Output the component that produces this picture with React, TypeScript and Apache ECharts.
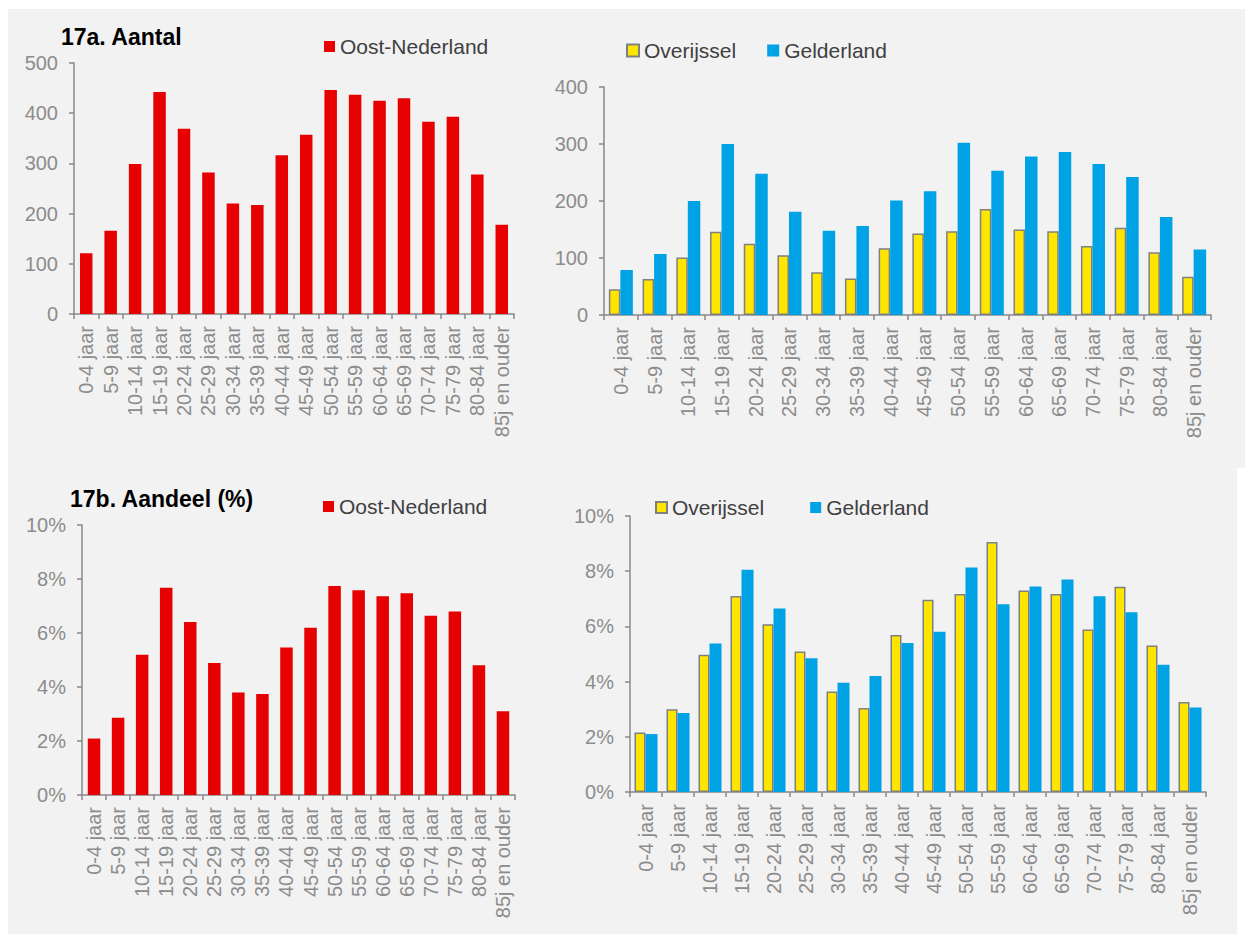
import React, { useEffect, useRef } from "react";
import * as echarts from "echarts";

// Age groups shared by all four panels
const ageGroups = [
  "0-4 jaar", "5-9 jaar", "10-14 jaar", "15-19 jaar", "20-24 jaar", "25-29 jaar",
  "30-34 jaar", "35-39 jaar", "40-44 jaar", "45-49 jaar", "50-54 jaar", "55-59 jaar",
  "60-64 jaar", "65-69 jaar", "70-74 jaar", "75-79 jaar", "80-84 jaar", "85j en ouder",
];

// 17a. Aantal
const aantalOostNederland = [121, 166, 299, 442, 369, 282, 220, 217, 316, 357, 446, 437, 425, 430, 383, 393, 278, 178];
const aantalOverijssel = [45, 63, 101, 146, 125, 105, 75, 64, 117, 143, 147, 186, 150, 147, 121, 153, 110, 67];
const aantalGelderland = [79, 107, 200, 300, 248, 181, 148, 156, 201, 217, 302, 253, 278, 286, 265, 242, 172, 115];

// 17b. Aandeel (%)
const aandeelOostNederland = [2.09, 2.86, 5.19, 7.68, 6.41, 4.89, 3.8, 3.74, 5.46, 6.19, 7.74, 7.58, 7.36, 7.47, 6.64, 6.8, 4.81, 3.1];
const aandeelOverijssel = [2.16, 3.0, 4.97, 7.1, 6.08, 5.09, 3.64, 3.04, 5.69, 6.97, 7.17, 9.06, 7.3, 7.17, 5.89, 7.44, 5.31, 3.26];
const aandeelGelderland = [2.1, 2.86, 5.38, 8.05, 6.65, 4.85, 3.96, 4.2, 5.4, 5.81, 8.13, 6.8, 7.45, 7.7, 7.09, 6.51, 4.61, 3.06];

const FONT = "'Liberation Sans', Arial, sans-serif";
const RED = "#e60000";
const YELLOW = "#ffe600";
const BLUE = "#00a2e6";
const AXIS = "#898989";
const LABEL = "#8c8c8c";

const xAxisFor = (gridIndex: number) => ({
  type: "category" as const,
  gridIndex,
  data: ageGroups,
  axisLine: { lineStyle: { color: AXIS, width: 1.5 } },
  axisTick: { show: true, length: 5, lineStyle: { color: AXIS, width: 1.5 } },
  axisLabel: { rotate: 90, margin: 12, color: LABEL, fontSize: 20, fontFamily: FONT, interval: 0 },
  splitLine: { show: false },
});

const yAxisFor = (gridIndex: number, max: number, interval: number, pct: boolean) => ({
  type: "value" as const,
  gridIndex,
  min: 0,
  max,
  interval,
  axisLine: { show: true, lineStyle: { color: AXIS, width: 1.5 } },
  axisTick: { show: true, length: 5, lineStyle: { color: AXIS, width: 1.5 } },
  axisLabel: {
    margin: 16,
    color: LABEL,
    fontSize: 20,
    fontFamily: FONT,
    formatter: pct ? (v: number) => `${v}%` : undefined,
  },
  splitLine: { show: false },
});

const legendText = { color: "#404040", fontSize: 21, fontFamily: FONT };

export default function App() {
  const ref = useRef<HTMLDivElement>(null);

  useEffect(() => {
    if (!ref.current) return;
    const chart = echarts.init(ref.current, undefined, { renderer: "svg" });
    chart.setOption({
      animation: false,
      backgroundColor: "transparent",
      textStyle: { fontFamily: FONT },
      grid: [
        { left: 74, top: 63, width: 440, height: 251 },
        { left: 604, top: 87, width: 607, height: 228 },
        { left: 82, top: 525, width: 433, height: 270 },
        { left: 630, top: 516, width: 576, height: 276 },
      ],
      xAxis: [xAxisFor(0), xAxisFor(1), xAxisFor(2), xAxisFor(3)],
      yAxis: [
        yAxisFor(0, 500, 100, false),
        yAxisFor(1, 400, 100, false),
        yAxisFor(2, 10, 2, true),
        yAxisFor(3, 10, 2, true),
      ],
      legend: [
        {
          left: 319, top: 31, itemWidth: 11, itemHeight: 11, icon: "rect",
          data: ["Oost-Nederland"], textStyle: legendText,
        },
        {
          left: 621, top: 35, itemWidth: 12, itemHeight: 12, icon: "rect", itemGap: 31,
          data: ["Overijssel", "Gelderland"], textStyle: legendText,
        },
        {
          left: 318, top: 491, itemWidth: 11, itemHeight: 11, icon: "rect",
          data: ["Oost-Nederland"], textStyle: legendText,
        },
        {
          left: 650, top: 492, itemWidth: 11, itemHeight: 11, icon: "rect", itemGap: 46,
          data: ["Overijssel", "Gelderland"], textStyle: legendText,
        },
      ],
      graphic: [
        {
          type: "text", left: 61, top: 25,
          style: { text: "17a. Aantal", fill: "#000", font: `bold 23px ${FONT}` },
        },
        {
          type: "text", left: 70, top: 487,
          style: { text: "17b. Aandeel (%)", fill: "#000", font: `bold 23px ${FONT}` },
        },
      ],
      series: [
        {
          name: "Oost-Nederland", type: "bar", xAxisIndex: 0, yAxisIndex: 0,
          data: aantalOostNederland, barWidth: 12.5, itemStyle: { color: RED },
        },
        {
          name: "Overijssel", type: "bar", xAxisIndex: 1, yAxisIndex: 1,
          data: aantalOverijssel, barWidth: 11.5, barGap: "0%",
          itemStyle: { color: YELLOW, borderColor: "#808080", borderWidth: 1.5 },
        },
        {
          name: "Gelderland", type: "bar", xAxisIndex: 1, yAxisIndex: 1,
          data: aantalGelderland, barWidth: 12.5, barGap: "0%", itemStyle: { color: BLUE },
        },
        {
          name: "Oost-Nederland", type: "bar", xAxisIndex: 2, yAxisIndex: 2,
          data: aandeelOostNederland, barWidth: 12.5, itemStyle: { color: RED },
        },
        {
          name: "Overijssel", type: "bar", xAxisIndex: 3, yAxisIndex: 3,
          data: aandeelOverijssel, barWidth: 11, barGap: "0%",
          itemStyle: { color: YELLOW, borderColor: "#808080", borderWidth: 1.5 },
        },
        {
          name: "Gelderland", type: "bar", xAxisIndex: 3, yAxisIndex: 3,
          data: aandeelGelderland, barWidth: 12, barGap: "0%", itemStyle: { color: BLUE },
        },
      ],
    });
    return () => chart.dispose();
  }, []);

  return (
    <div style={{ position: "fixed", left: 0, top: 0, width: 1245, height: 934, background: "#fff" }}>
      <div style={{ position: "absolute", left: 8, top: 9, width: 1237, height: 459, background: "#f2f2f2" }} />
      <div style={{ position: "absolute", left: 8, top: 468, width: 1229, height: 466, background: "#f2f2f2" }} />
      <div ref={ref} style={{ position: "absolute", left: 0, top: 0, width: 1245, height: 934 }} />
    </div>
  );
}
